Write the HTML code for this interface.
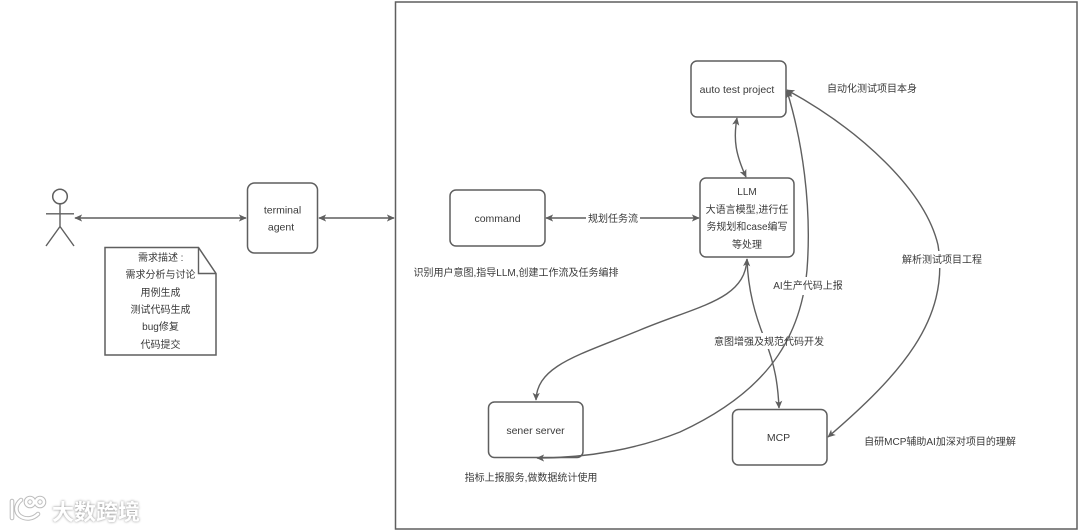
<!DOCTYPE html>
<html><head><meta charset="utf-8"><style>
html,body{margin:0;padding:0;background:#fff}
svg{display:block;width:1080px;height:531px;filter:blur(0.35px)}
text{font-family:"Liberation Sans","Noto Sans CJK SC",sans-serif;font-size:10px;fill:#3a3a3a;text-anchor:middle}
.e{font-size:10.5px}
.l{fill:none;stroke:#5f5f5f;stroke-width:1.4}
.b{fill:#fff;stroke:#5f5f5f;stroke-width:1.5}
.bg{fill:#fff}
.w{font-size:22px;fill:#fff;text-anchor:start;font-weight:bold;filter:drop-shadow(0 0 1.2px #8a8a8a)}
</style></head><body>
<svg viewBox="0 0 1080 531" xmlns="http://www.w3.org/2000/svg">
<defs>
<marker id="m" viewBox="0 0 10 10" refX="9" refY="5" markerWidth="8" markerHeight="8" markerUnits="userSpaceOnUse" orient="auto-start-reverse"><path d="M0,0.5 L10,5 L0,9.5 L2.5,5 Z" fill="#5f5f5f"/></marker>
</defs>
<rect x="395.5" y="2" width="681.5" height="527" fill="#fff" stroke="#5f5f5f" stroke-width="1.5"/>
<!-- actor -->
<circle cx="60" cy="196.5" r="7.3" class="b"/>
<path class="l" d="M60,204 V226.5 M46,213.8 H74 M60,226.5 L46,246 M60,226.5 L74,246"/>
<!-- straight arrows -->
<path class="l" d="M75,218 H246" marker-start="url(#m)" marker-end="url(#m)"/>
<path class="l" d="M319,218 H394" marker-start="url(#m)" marker-end="url(#m)"/>
<path class="l" d="M546,218 H699" marker-start="url(#m)" marker-end="url(#m)"/>
<!-- boxes -->
<rect x="247.5" y="183" width="70" height="70" rx="7" class="b"/>
<path class="b" d="M105,247.5 H198.5 L216,273.5 V355 H105 Z"/>
<path class="l" d="M198.5,247.5 V273.5 H216"/>
<rect x="450" y="190" width="95" height="56" rx="6" class="b"/>
<rect x="691" y="61" width="95" height="56" rx="6" class="b"/>
<rect x="700" y="178" width="94" height="79" rx="6" class="b"/>
<rect x="488.5" y="402" width="94.5" height="55.5" rx="6" class="b"/>
<rect x="732.5" y="409.5" width="94.5" height="55.5" rx="6" class="b"/>
<!-- curves -->
<path class="l" d="M737,118 C733,140 736,155 746,177" marker-start="url(#m)" marker-end="url(#m)"/>
<path class="l" d="M787,90 C860,130 925,190 938,245 C950,320 900,375 828,437" marker-start="url(#m)" marker-end="url(#m)"/>
<path class="l" d="M747,259 C745,300 700,305 640,330 C580,355 537,365 536,400" marker-start="url(#m)" marker-end="url(#m)"/>
<path class="l" d="M747,259 C748,290 755,315 765,340 C775,365 778,385 779,408" marker-end="url(#m)"/>
<!-- label backgrounds under the crossing line -->
<rect class="bg" x="586" y="211" width="54" height="14"/>
<rect class="bg" x="713" y="333" width="112" height="16"/>
<rect class="bg" x="901" y="251" width="82" height="17"/>
<!-- this connector runs across the intent label -->
<path class="l" d="M787,91 C802,140 812,205 807,270 C800,345 760,395 680,432 C640,448 590,458 537,458" marker-start="url(#m)" marker-end="url(#m)"/>
<rect class="bg" x="772" y="277" width="72" height="18"/>
<!-- labels -->
<text class="e" x="282.5" y="213.5">terminal</text>
<text class="e" x="281" y="230.5">agent</text>
<text x="158" y="261">需求描述</text>
<text x="182" y="261">:</text>
<text x="160.5" y="278">需求分析与讨论</text>
<text x="160.5" y="296">用例生成</text>
<text x="160.5" y="313">测试代码生成</text>
<text x="160.5" y="330">bug修复</text>
<text x="160.5" y="348">代码提交</text>
<text class="e" x="497.5" y="222">command</text>
<text x="613" y="222">规划任务流</text>
<text x="516" y="276">识别用户意图,指导LLM,创建工作流及任务编排</text>
<text class="e" x="737" y="93">auto test project</text>
<text x="872" y="92">自动化测试项目本身</text>
<text x="747" y="195">LLM</text>
<text x="747" y="213">大语言模型,进行任</text>
<text x="747" y="230">务规划和case编写</text>
<text x="747" y="248">等处理</text>
<text x="808" y="289">AI生产代码上报</text>
<text x="769" y="345">意图增强及规范代码开发</text>
<text x="942" y="263">解析测试项目工程</text>
<text class="e" x="535.5" y="434">sener server</text>
<text class="e" x="778.5" y="441">MCP</text>
<text x="940" y="445">自研MCP辅助AI加深对项目的理解</text>
<text x="531" y="481">指标上报服务,做数据统计使用</text>
<!-- watermark -->
<g fill="none" stroke="#bdbdbd" stroke-width="4.6" stroke-linecap="round">
<path d="M12,501 V518 M21,500 C15,505 15,512 20,516 C26,520 33,519 38,514"/>
<circle cx="30" cy="502" r="4"/><circle cx="40" cy="502" r="4"/>
</g>
<g fill="none" stroke="#fff" stroke-width="2.6" stroke-linecap="round">
<path d="M12,501 V518 M21,500 C15,505 15,512 20,516 C26,520 33,519 38,514"/>
<circle cx="30" cy="502" r="4"/><circle cx="40" cy="502" r="4"/>
</g>
<text class="w" x="52" y="520">大数跨境</text>
</svg>
</body></html>
